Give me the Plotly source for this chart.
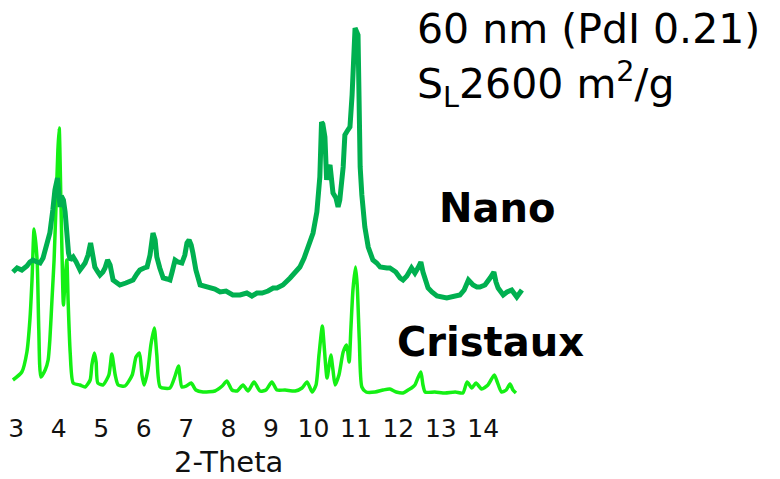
import plotly.graph_objects as go

# 2-Theta (degrees) and intensity (a.u.)
cristaux_2theta = [2.92, 3.13, 3.25, 3.32, 3.37, 3.42, 3.49, 3.53, 3.58, 3.68, 3.75, 3.79, 3.84, 3.89,
                   3.94, 3.98, 4.01, 4.05, 4.08, 4.11, 4.15, 4.19, 4.22, 4.27, 4.34, 4.50, 4.62, 4.74,
                   4.78, 4.84, 4.88, 4.92, 5.04, 5.18, 5.25, 5.33, 5.40, 5.56, 5.73, 5.82, 5.90, 5.96,
                   6.01, 6.10, 6.17, 6.25, 6.31, 6.39, 6.62, 6.74, 6.82, 6.90, 7.00, 7.12, 7.23, 7.40,
                   7.68, 7.85, 7.96, 8.08, 8.20, 8.34, 8.46, 8.60, 8.74, 8.88, 9.02, 9.14, 9.33, 9.57,
                   9.73, 9.85, 9.97, 10.06, 10.13, 10.21, 10.25, 10.32, 10.37, 10.41, 10.46, 10.51,
                   10.60, 10.70, 10.78, 10.84, 10.88, 10.93, 10.99, 11.03, 11.08, 11.14, 11.24, 11.45,
                   11.64, 11.80, 11.95, 12.11, 12.23, 12.31, 12.39, 12.46, 12.53, 12.58, 12.63, 12.86,
                   13.10, 13.34, 13.52, 13.62, 13.73, 13.83, 13.96, 14.11, 14.26, 14.33, 14.43, 14.54,
                   14.63, 14.70, 14.77]
cristaux_intensity = [20, 28, 48, 80, 120, 171, 140, 70, 23, 30, 40, 60, 100, 140,
                      200, 250, 272, 200, 140, 95, 120, 140, 100, 47, 17, 15, 13, 20,
                      35, 47, 38, 17, 15, 25, 46, 25, 15, 14, 25, 43, 47, 25,
                      15, 30, 55, 72, 45, 13, 12, 24, 34, 13, 14, 17, 10, 8,
                      9, 14, 19, 10, 9, 15, 9, 18, 9, 10, 18, 10, 10, 9,
                      12, 18, 8, 15, 45, 74, 55, 22, 35, 45, 30, 15,
                      25, 48, 55, 38, 70, 110, 133, 115, 60, 13, 8, 8,
                      10, 11, 8, 7, 10, 12, 15, 22, 28, 15, 8, 8,
                      7, 8, 7, 18, 12, 17, 11, 15, 25, 18, 8, 10,
                      16, 10, 7]

nano_2theta = [2.92, 3.02, 3.13, 3.25, 3.32, 3.39, 3.49, 3.56, 3.63, 3.70, 3.79, 3.86, 3.91, 3.97,
               4.00, 4.03, 4.06, 4.11, 4.15, 4.17, 4.23, 4.27, 4.34, 4.41, 4.50, 4.57, 4.62, 4.69,
               4.75, 4.78, 4.85, 4.92, 4.97, 5.04, 5.09, 5.15, 5.21, 5.28, 5.37, 5.44, 5.58, 5.75,
               5.84, 5.91, 6.01, 6.08, 6.15, 6.22, 6.27, 6.31, 6.38, 6.46, 6.55, 6.62, 6.67, 6.74,
               6.81, 6.90, 6.97, 7.02, 7.07, 7.12, 7.16, 7.23, 7.33, 7.44, 7.56, 7.68, 7.80, 7.94,
               8.10, 8.27, 8.43, 8.55, 8.67, 8.79, 8.93, 9.05, 9.14, 9.28, 9.45, 9.56, 9.68, 9.78,
               9.84, 9.92, 9.99, 10.08, 10.11, 10.15, 10.19, 10.22, 10.27, 10.31, 10.34, 10.39,
               10.46, 10.53, 10.58, 10.62, 10.70, 10.74, 10.81, 10.86, 10.91, 10.94, 10.98, 11.05,
               11.07, 11.10, 11.14, 11.21, 11.29, 11.40, 11.49, 11.57, 11.73, 11.80, 11.94, 12.04,
               12.11, 12.20, 12.31, 12.39, 12.46, 12.53, 12.58, 12.63, 12.70, 12.79, 12.91, 13.14,
               13.33, 13.45, 13.55, 13.65, 13.76, 13.85, 13.92, 14.04, 14.16, 14.25, 14.30, 14.35,
               14.47, 14.56, 14.67, 14.79, 14.91]
nano_intensity = [128, 132, 130, 134, 138, 140, 138, 137, 142, 152, 167, 190, 210, 222,
                  205, 193, 204, 200, 188, 173, 147, 140, 143, 138, 130, 134, 137, 145,
                  157, 150, 133, 128, 125, 128, 132, 140, 135, 120, 117, 115, 117, 120,
                  126, 130, 132, 133, 145, 167, 160, 143, 132, 122, 121, 120, 128, 140,
                  138, 137, 145, 157, 160, 155, 147, 130, 115, 114, 113, 111, 108, 109,
                  105, 105, 107, 104, 107, 107, 109, 112, 112, 115, 122, 128, 133, 142,
                  150, 158, 167, 188, 205, 223, 278, 276, 263, 220, 230, 235,
                  207, 202, 193, 200, 233, 265, 270, 273, 305, 340, 372, 365,
                  300, 233, 205, 173, 153, 140, 137, 133, 132, 132, 128, 122,
                  120, 124, 132, 127, 132, 138, 128, 120, 112, 108, 104, 102,
                  104, 105, 110, 120, 115, 113, 113, 115, 122, 128, 118, 112,
                  105, 108, 110, 103, 110]

tick_values = [3, 4, 5, 6, 7, 8, 9, 10, 11, 12, 13, 14]
tick_labels = ["3", "4", "5", "6", "7", "8", "9", "10", "11", "12", "13", "14"]

fig = go.Figure()
fig.add_trace(go.Scatter(x=cristaux_2theta, y=cristaux_intensity, mode="lines",
                         line=dict(color="#14f014", width=3.5, shape="spline", smoothing=0.6),
                         name="Cristaux", showlegend=False))
fig.add_trace(go.Scatter(x=nano_2theta, y=nano_intensity, mode="lines",
                         line=dict(color="#00b050", width=5), name="Nano",
                         showlegend=False))

fig.update_layout(
    width=780, height=479,
    margin=dict(l=0, r=0, t=0, b=79),
    paper_bgcolor="white", plot_bgcolor="white",
    xaxis=dict(range=[2.616, 20.99], showgrid=False, zeroline=False, showline=False,
               tickvals=tick_values, ticktext=tick_labels, ticks="",
               ticklabelstandoff=11,
               tickfont=dict(family="DejaVu Sans", size=25, color="#111111")),
    yaxis=dict(range=[0, 400], visible=False),
    font=dict(family="DejaVu Sans", color="black"),
)

annotations = [
    dict(text="60 nm (PdI 0.21)", x=415 / 780, y=1 - 29 / 400, xanchor="left", yanchor="middle",
         font=dict(size=41, family="DejaVu Sans")),
    dict(text="S<sub>L</sub>2600 m<sup>2</sup>/g", x=415 / 780, y=1 - 84 / 400, xanchor="left",
         yanchor="middle", font=dict(size=41, family="DejaVu Sans")),
    dict(text="<b>Nano</b>", x=497 / 780, y=1 - 208 / 400, xanchor="center", yanchor="middle",
         font=dict(size=40, family="DejaVu Sans")),
    dict(text="<b>Cristaux</b>", x=490 / 780, y=1 - 342 / 400, xanchor="center", yanchor="middle",
         font=dict(size=40, family="DejaVu Sans")),
    dict(text="2-Theta", x=228 / 780, y=1 - 462 / 400, xanchor="center", yanchor="middle",
         font=dict(size=29, family="DejaVu Sans", color="#111111")),
]
for a in annotations:
    fig.add_annotation(xref="paper", yref="paper", showarrow=False, **a)

fig.write_html("out.html")
